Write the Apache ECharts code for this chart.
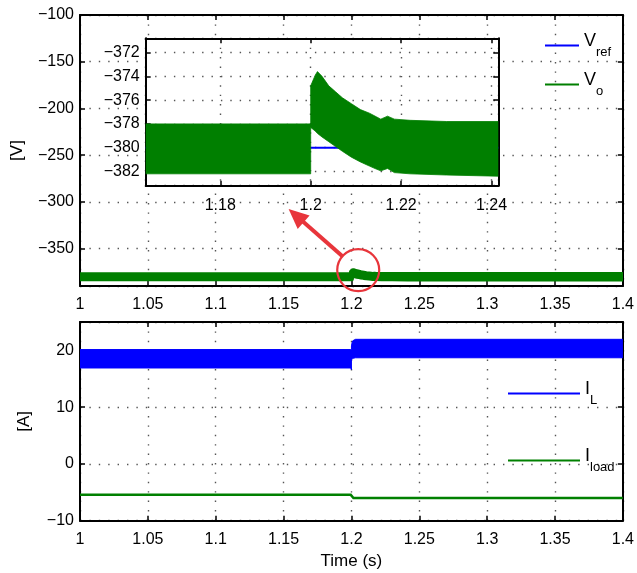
<!DOCTYPE html>
<html>
<head>
<meta charset="utf-8">
<script src="https://cdn.jsdelivr.net/npm/echarts@6/dist/echarts.min.js"></script>
<style>
html, body { margin: 0; padding: 0; background: #fff; }
#chart { width: 637px; height: 573px; }
</style>
</head>
<body>
<div id="chart"></div>
<script>
// axis ranges
const timeRange = [1, 1.4];
const zoomTimeRange = [1.1635, 1.2415];
const voltRange = [-390, -100];
const zoomVoltRange = [-383.2, -370.8];
const currentRange = [-10, 25];

// reference voltage
const vrefT = [1, 1.4];
const vref = [-380, -380];

// output voltage ripple envelope (upper / lower edge of the band)
const voT = [1.0, 1.1, 1.2, 1.2, 1.201, 1.2015, 1.2025, 1.204, 1.2055, 1.207, 1.209, 1.211, 1.213, 1.2145, 1.2155, 1.217, 1.2185, 1.222, 1.23, 1.2415, 1.3, 1.4];
const voHi = [-378.0, -378.0, -378.0, -374.8, -373.9, -373.6, -374.0, -374.8, -375.3, -375.8, -376.3, -376.8, -377.1, -377.4, -377.6, -377.35, -377.6, -377.7, -377.8, -377.8, -377.8, -377.8];
const voLo = [-382.2, -382.2, -382.2, -378.3, -378.6, -378.8, -379.1, -379.5, -379.9, -380.3, -380.8, -381.2, -381.55, -381.8, -381.95, -381.75, -382.1, -382.2, -382.3, -382.4, -382.4, -382.4];

// inductor current ripple envelope
const ilT = [1.0, 1.1995, 1.2, 1.2, 1.2005, 1.201, 1.203, 1.4];
const ilHi = [20.15, 20.15, 20.15, 20.8, 21.4, 21.7, 21.95, 21.95];
const ilLo = [16.9, 16.9, 16.6, 18.3, 18.5, 18.6, 18.7, 18.7];

// load current
const iloadT = [1.0, 1.1995, 1.2015, 1.4];
const iload = [-5.45, -5.45, -6.0, -6.0];

const font = 'Liberation Sans, Arial, Helvetica, sans-serif';
const BLUE = '#0000ff';
const GREEN = '#007f00';
const RED = '#e8353b';

const chart = echarts.init(document.getElementById('chart'));

const pairs = (t, v) => t.map((x, i) => [x, v[i]]);
const minus = v => String(v).replace('-', '\u2212');

function clipRect(params) {
    const cs = params.coordSys;
    return { type: 'rect', shape: { x: cs.x, y: cs.y, width: cs.width, height: cs.height } };
}

// filled ripple band between an upper and a lower envelope
function band(name, xi, yi, t, hi, lo, color, stroke, z) {
    return {
        name: name, type: 'custom', xAxisIndex: xi, yAxisIndex: yi, z: z, silent: true,
        itemStyle: { color: color },
        data: [[t[0], hi[0]]],
        renderItem: function (params, api) {
            const top = t.map((x, i) => api.coord([x, hi[i]]));
            const bottom = t.map((x, i) => api.coord([x, lo[i]])).reverse();
            return {
                type: 'polygon',
                shape: { points: top.concat(bottom) },
                style: { fill: color, stroke: color, lineWidth: stroke, lineJoin: 'round' },
                clipPath: clipRect(params)
            };
        }
    };
}

// plain trace clipped exactly to its grid
function trace(name, xi, yi, t, v, color, width, z) {
    return {
        name: name, type: 'custom', xAxisIndex: xi, yAxisIndex: yi, z: z, silent: true,
        itemStyle: { color: color },
        data: [[t[0], v[0]]],
        renderItem: function (params, api) {
            return {
                type: 'polyline',
                shape: { points: t.map((x, i) => api.coord([x, v[i]])) },
                style: { fill: null, stroke: color, lineWidth: width },
                clipPath: clipRect(params)
            };
        }
    };
}

const tickLabel = { color: '#000', fontFamily: font, fontSize: 16 };
const frame = { show: true, onZero: false, lineStyle: { color: '#000', width: 2 } };
const ticks = { show: true, inside: true, length: 5, lineStyle: { color: '#000', width: 1.5 } };
const dotted = { show: true, lineStyle: { color: '#555', width: 1.4, type: [1.4, 8] } };

function xAx(grid, pos, range, extra) {
    return Object.assign({
        type: 'value', gridIndex: grid, position: pos,
        min: range[0], max: range[1],
        axisLine: frame, axisTick: ticks,
        axisLabel: pos === 'bottom' ? Object.assign({ margin: 11 }, tickLabel) : { show: false },
        splitLine: pos === 'bottom' ? dotted : { show: false }
    }, extra || {});
}
function yAx(grid, pos, range, extra) {
    return Object.assign({
        type: 'value', gridIndex: grid, position: pos,
        min: range[0], max: range[1],
        axisLine: frame, axisTick: ticks,
        axisLabel: pos === 'left' ? Object.assign({ margin: 6, formatter: minus }, tickLabel) : { show: false },
        splitLine: pos === 'left' ? dotted : { show: false }
    }, extra || {});
}

const legendText = {
    color: '#000',
    fontFamily: font,
    rich: {
        m: { fontSize: 18, fontFamily: font, color: '#000', verticalAlign: 'bottom', padding: [0, 0, 9, 0] },
        s: { fontSize: 13, fontFamily: font, color: '#000', verticalAlign: 'bottom' }
    }
};
const legendNames = { Vref: '{m|V}{s|ref}', Vo: '{m|V}{s|o}', IL: '{m|I}{s|L}', Iload: '{m|I}{s|load}' };
const nameStyle = { color: '#000', fontFamily: font, fontSize: 17 };

const zoomLabelsX = Object.assign({ margin: 12, showMinLabel: false, showMaxLabel: false }, tickLabel);
const zoomLabelsY = Object.assign({ margin: 6, showMinLabel: false, showMaxLabel: false, formatter: minus }, tickLabel);

chart.setOption({
    animation: false,
    backgroundColor: '#fff',
    grid: [
        { left: 80, top: 15, width: 546.5, height: 271, show: false },
        { left: 80, top: 322, width: 546.5, height: 198.7, show: false },
        { left: 145.7, top: 38.3, width: 352.6, height: 147.4, show: true, backgroundColor: '#fff', borderWidth: 0, z: 5 }
    ],
    legend: [
        {
            orient: 'vertical', left: 540, top: 27, itemWidth: 34, itemHeight: 2, itemGap: 12,
            selectedMode: false, textStyle: legendText,
            formatter: n => legendNames[n],
            data: [{ name: 'Vref', icon: 'rect' }, { name: 'Vo', icon: 'rect' }]
        },
        {
            orient: 'vertical', left: 503, top: 375, itemWidth: 72, itemHeight: 2, itemGap: 40,
            selectedMode: false, textStyle: legendText,
            formatter: n => legendNames[n],
            data: [{ name: 'IL', icon: 'rect' }, { name: 'Iload', icon: 'rect' }]
        }
    ],
    xAxis: [
        xAx(0, 'bottom', timeRange, { interval: 0.05 }),
        xAx(0, 'top', timeRange, { interval: 0.05 }),
        xAx(1, 'bottom', timeRange, {
            interval: 0.05, name: 'Time (s)', nameLocation: 'middle', nameGap: 32, nameTextStyle: nameStyle
        }),
        xAx(1, 'top', timeRange, { interval: 0.05 }),
        xAx(2, 'bottom', zoomTimeRange, { minInterval: 0.02, maxInterval: 0.02, z: 6, axisLabel: zoomLabelsX }),
        xAx(2, 'top', zoomTimeRange, { minInterval: 0.02, maxInterval: 0.02, z: 6 })
    ],
    yAxis: [
        yAx(0, 'left', voltRange, {
            minInterval: 50, maxInterval: 50,
            axisLabel: Object.assign({ margin: 6, showMinLabel: false, formatter: minus }, tickLabel),
            name: '[V]', nameLocation: 'middle', nameGap: 54, nameTextStyle: nameStyle
        }),
        yAx(0, 'right', voltRange, { minInterval: 50, maxInterval: 50 }),
        yAx(1, 'left', currentRange, {
            interval: 10,
            axisLabel: Object.assign({ margin: 6, showMaxLabel: false, formatter: minus }, tickLabel),
            name: '[A]', nameLocation: 'middle', nameGap: 47, nameTextStyle: nameStyle
        }),
        yAx(1, 'right', currentRange, { interval: 10 }),
        yAx(2, 'left', zoomVoltRange, { minInterval: 2, maxInterval: 2, z: 6, axisLabel: zoomLabelsY }),
        yAx(2, 'right', zoomVoltRange, { minInterval: 2, maxInterval: 2, z: 6 })
    ],
    series: [
        trace('Vref', 0, 0, vrefT, vref, BLUE, 2, 2),
        band('Vo', 0, 0, voT, voHi, voLo, GREEN, 5, 3),
        trace('Vref zoom', 4, 4, vrefT, vref, BLUE, 2, 7),
        band('Vo zoom', 4, 4, voT, voHi, voLo, GREEN, 0.8, 8),
        band('IL', 2, 2, ilT, ilHi, ilLo, BLUE, 1, 3),
        trace('Iload', 2, 2, iloadT, iload, '#008000', 2.5, 3)
    ]
});

// red annotation: circle on the transient, arrow pointing to the zoomed view
const centre = chart.convertToPixel({ xAxisIndex: 0, yAxisIndex: 0 }, [1.205, -373]);
const tip = chart.convertToPixel({ xAxisIndex: 0, yAxisIndex: 0 }, [1.1537, -307.6]);
const r = 21;
const dx = tip[0] - centre[0], dy = tip[1] - centre[1];
const len = Math.sqrt(dx * dx + dy * dy);
const ux = dx / len, uy = dy / len;
const nx = -uy, ny = ux;
const headL = 20, headW = 18;
const start = [centre[0] + ux * r, centre[1] + uy * r];
const shaftEnd = [tip[0] - ux * headL * 0.8, tip[1] - uy * headL * 0.8];
const headBase = [tip[0] - ux * headL, tip[1] - uy * headL];

chart.setOption({
    graphic: [
        {
            type: 'circle', z: 100, silent: true,
            shape: { cx: centre[0], cy: centre[1], r: r },
            style: { fill: 'none', stroke: RED, lineWidth: 2.2 }
        },
        {
            type: 'line', z: 100, silent: true,
            shape: { x1: start[0], y1: start[1], x2: shaftEnd[0], y2: shaftEnd[1] },
            style: { stroke: RED, lineWidth: 4 }
        },
        {
            type: 'polygon', z: 100, silent: true,
            shape: {
                points: [
                    tip,
                    [headBase[0] + nx * headW / 2, headBase[1] + ny * headW / 2],
                    [headBase[0] - nx * headW / 2, headBase[1] - ny * headW / 2]
                ]
            },
            style: { fill: RED }
        }
    ]
});
</script>
</body>
</html>
